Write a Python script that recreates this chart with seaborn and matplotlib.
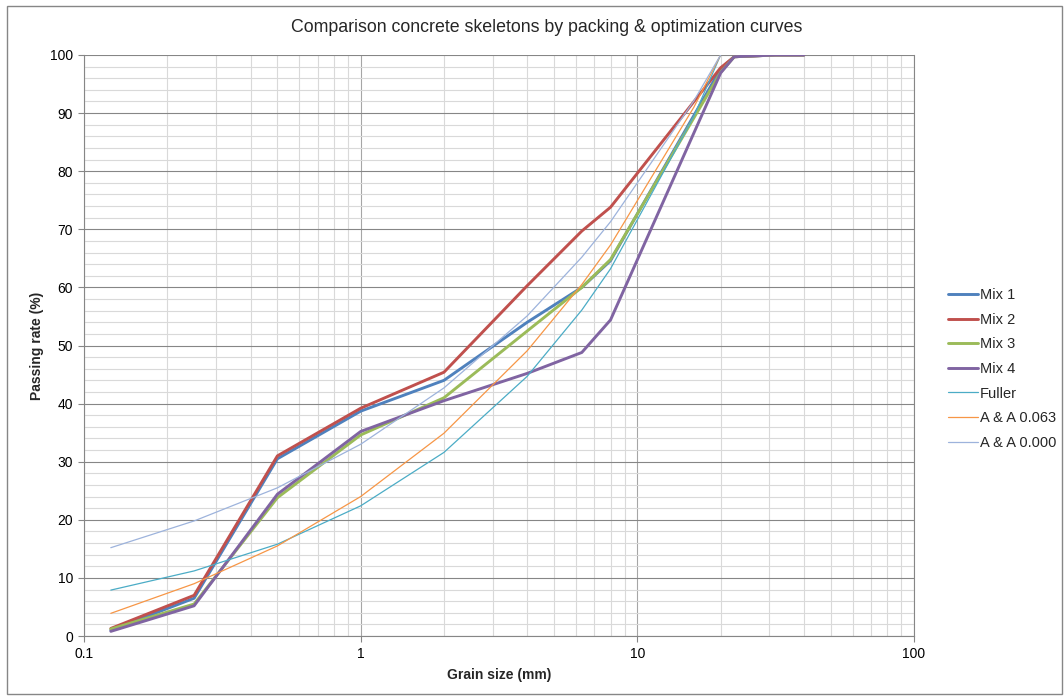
import matplotlib
matplotlib.use("Agg")
import numpy as np
import pandas as pd
import matplotlib.pyplot as plt
import seaborn as sns
from matplotlib.ticker import FixedLocator, MultipleLocator, FixedFormatter, NullFormatter
from matplotlib.patches import Rectangle

# ---- data ----
mix_sizes = [0.125, 0.25, 0.5, 1, 2, 4, 6.3, 8, 20, 22.4, 31.5, 40]
mix1 = [1.0, 6.5, 30.5, 38.7, 44.0, 54.0, 60.0, 64.6, 97.6, 99.7, 100, 100]
mix2 = [1.3, 7.0, 31.0, 39.2, 45.4, 60.3, 69.7, 73.8, 97.8, 99.7, 100, 100]
mix3 = [1.2, 5.5, 23.8, 34.6, 41.0, 52.5, 60.0, 64.8, 97.0, 99.7, 100, 100]
mix4 = [0.8, 5.2, 24.4, 35.2, 40.5, 45.2, 48.8, 54.4, 96.9, 99.7, 100, 100]

curve_sizes = [0.125, 0.25, 0.5, 1, 2, 4, 6.3, 8, 16, 20]
fuller = [7.9, 11.2, 15.8, 22.4, 31.6, 44.7, 56.1, 63.2, 89.4, 100]
aa063 = [3.9, 9.0, 15.5, 24.0, 34.9, 49.1, 60.5, 67.3, 91.0, 100]
aa000 = [15.2, 19.8, 25.5, 33.0, 42.7, 55.1, 65.2, 71.3, 92.1, 100]

series_names = ["Mix 1", "Mix 2", "Mix 3", "Mix 4", "Fuller", "A & A 0.063", "A & A 0.000"]
x_tick_values = [0.1, 1, 10, 100]
x_tick_labels = ["0.1", "1", "10", "100"]

title = "Comparison concrete skeletons by packing & optimization curves"
xlabel = "Grain size (mm)"
ylabel = "Passing rate (%)"

# ---- styling ----
sns.set_style("white")
plt.rcParams['font.family'] = ['Liberation Sans', 'DejaVu Sans']

colors = {"Mix 1": "#4F81BD", "Mix 2": "#C0504D", "Mix 3": "#9BBB59", "Mix 4": "#8064A2",
          "Fuller": "#4BACC6", "A & A 0.063": "#F79646", "A & A 0.000": "#9DB3DC"}
widths = {"Mix 1": 2.1, "Mix 2": 2.1, "Mix 3": 2.1, "Mix 4": 2.1,
          "Fuller": 0.9, "A & A 0.063": 0.9, "A & A 0.000": 0.9}

data = [(mix_sizes, mix1), (mix_sizes, mix2), (mix_sizes, mix3), (mix_sizes, mix4),
        (curve_sizes, fuller), (curve_sizes, aa063), (curve_sizes, aa000)]

fig = plt.figure(figsize=(10.64, 6.96), dpi=100)
ax = fig.add_axes([84/1064, (696-636)/696, (914-84)/1064, (636-55)/696])

for name, (xs, ys) in zip(series_names, data):
    df = pd.DataFrame({"size": xs, "pass": ys})
    sns.lineplot(data=df, x="size", y="pass", ax=ax, color=colors[name],
                 linewidth=widths[name], label=name, sort=False, estimator=None)

ax.set_xscale("log")
ax.set_xlim(0.1, 100)
ax.set_ylim(0, 100)

ax.xaxis.set_major_locator(FixedLocator(x_tick_values))
ax.xaxis.set_major_formatter(FixedFormatter(x_tick_labels))
minor = [m * 10.0**e for e in (-1, 0, 1) for m in range(2, 10)]
ax.xaxis.set_minor_locator(FixedLocator(minor))
ax.xaxis.set_minor_formatter(NullFormatter())
ax.yaxis.set_major_locator(MultipleLocator(10))
ax.yaxis.set_minor_locator(MultipleLocator(2))

ax.grid(which="minor", axis="both", color="#D9D9D9", linewidth=0.8)
ax.grid(which="major", axis="x", color="#A6A6A6", linewidth=0.8)
ax.grid(which="major", axis="y", color="#868686", linewidth=0.8)
ax.set_axisbelow(True)

ax.tick_params(which="major", length=4, width=0.8, color="#868686", direction="out",
               labelsize=10, labelcolor="#000000", pad=4)
ax.tick_params(which="minor", length=0)
ax.tick_params(axis="y", left=True)
ax.tick_params(axis="x", bottom=True)

for side in ["left", "bottom", "right"]:
    ax.spines[side].set_color("#868686")
    ax.spines[side].set_linewidth(0.8)
ax.spines["top"].set_visible(False)

ax.set_xlabel(xlabel, fontsize=10, fontweight="bold", labelpad=5)
ax.set_ylabel(ylabel, fontsize=10, fontweight="bold", labelpad=4)
fig.text(547/1064, 1 - 27/696, title, ha="center", va="center", fontsize=12.8)

if ax.legend_:
    ax.legend_.remove()
handles, labels = ax.get_legend_handles_labels()
fig.legend(handles, labels, loc="upper left", bbox_to_anchor=(948/1064, 1 - 288/696),
           frameon=False, fontsize=10.5, handlelength=2.05, handletextpad=0.12,
           labelspacing=0.73, borderpad=0, borderaxespad=0)

fig.patches.append(Rectangle((7/1064, 2/696), 1 - 9/1064, 1 - 8/696, transform=fig.transFigure,
                             fill=False, edgecolor="#868686", linewidth=1.0))

fig.savefig("out.png", dpi=100, facecolor="white")
